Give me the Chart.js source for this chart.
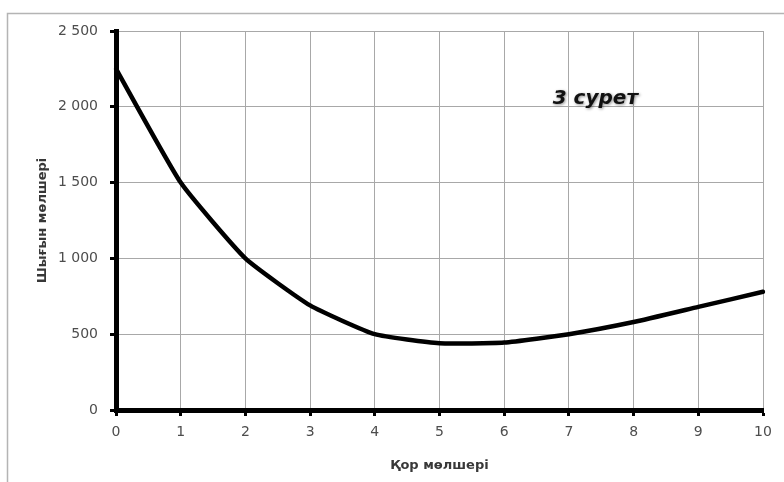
<!DOCTYPE html>
<html>
<head>
<meta charset="utf-8">
<script src="https://cdn.jsdelivr.net/npm/chart.js@4/dist/chart.umd.min.js"></script>
<style>
  html, body { margin: 0; padding: 0; background: #ffffff; }
  #wrap { width: 784px; height: 482px; position: relative; }
</style>
</head>
<body>
<div id="wrap"><canvas id="c"></canvas></div>
<script>
// ---- data ----
const categories = ['0', '1', '2', '3', '4', '5', '6', '7', '8', '9', '10'];
const costValues = [2250, 1500, 1000, 690, 500, 440, 445, 500, 580, 680, 780];
const yTickValues = [0, 500, 1000, 1500, 2000, 2500];
const yTickLabels = ['0', '500', '1 000', '1 500', '2 000', '2 500'];
const xTitle = 'Қор мөлшері';
const yTitle = 'Шығын мөлшері';
const noteText = '3 сурет';
const notePos = { x: 6.75, y: 2055 };

const frame = {
  id: 'frame',
  beforeDraw(chart) {
    const ctx = chart.ctx;
    ctx.save();
    ctx.fillStyle = '#ffffff';
    ctx.fillRect(0, 0, chart.width, chart.height);
    ctx.strokeStyle = '#b4b4b4';
    ctx.lineWidth = 1.5;
    ctx.beginPath();
    ctx.moveTo(7.5, chart.height);
    ctx.lineTo(7.5, 13.5);
    ctx.lineTo(chart.width, 13.5);
    ctx.stroke();
    ctx.restore();
  }
};

const note = {
  id: 'note',
  afterDatasetsDraw(chart) {
    const ctx = chart.ctx;
    const xs = chart.scales.x, ys = chart.scales.y;
    const px = xs.getPixelForValue(notePos.x);
    const py = ys.getPixelForValue(notePos.y);
    ctx.save();
    ctx.font = 'italic bold 20px "DejaVu Sans"';
    ctx.textAlign = 'left';
    ctx.textBaseline = 'middle';
    ctx.shadowColor = 'rgba(0,0,0,0.45)';
    ctx.shadowBlur = 3;
    ctx.shadowOffsetX = 1;
    ctx.shadowOffsetY = 1;
    ctx.fillStyle = '#111111';
    ctx.fillText(noteText, px, py);
    ctx.restore();
  }
};

new Chart(document.getElementById('c'), {
  type: 'line',
  data: {
    labels: categories,
    datasets: [{
      data: costValues,
      borderColor: '#000000',
      borderWidth: 4.5,
      pointRadius: 0,
      tension: 0.15,
      borderJoinStyle: 'round',
      borderCapStyle: 'round',
      fill: false
    }]
  },
  options: {
    responsive: true,
    maintainAspectRatio: false,
    animation: false,
    devicePixelRatio: 1,
    layout: { padding: { top: 31, right: 21, left: 0, bottom: 0 } },
    plugins: {
      legend: { display: false },
      tooltip: { enabled: false }
    },
    scales: {
      x: {
        type: 'category',
        offset: false,
        afterFit(s) { s.height = 72; },
        grid: {
          color: '#a8a8a8',
          lineWidth: 1,
          tickColor: '#000000',
          tickWidth: 3,
          tickLength: 6,
          drawTicks: true
        },
        border: { color: '#000000', width: 5 },
        ticks: {
          color: '#4d4d4d',
          font: { family: '"DejaVu Sans"', size: 14 },
          padding: 8,
          maxRotation: 0,
          autoSkip: false
        },
        title: {
          display: true,
          text: xTitle,
          color: '#383838',
          font: { family: '"DejaVu Sans"', size: 13, weight: 'bold' },
          padding: { top: 0, bottom: 9 }
        }
      },
      y: {
        min: 0,
        max: 2500,
        afterFit(s) { s.width = 116; },
        afterBuildTicks(s) { s.ticks = yTickValues.map(v => ({ value: v })); },
        grid: {
          color: '#a8a8a8',
          lineWidth: 1,
          tickColor: '#000000',
          tickWidth: 3,
          tickLength: 6
        },
        border: { color: '#000000', width: 5 },
        ticks: {
          color: '#4d4d4d',
          font: { family: '"DejaVu Sans"', size: 14 },
          padding: 12,
          callback(value, index) { return yTickLabels[index]; }
        },
        title: {
          display: true,
          text: yTitle,
          color: '#383838',
          font: { family: '"DejaVu Sans"', size: 13, weight: 'bold' },
          padding: { top: 35, bottom: 0 }
        }
      }
    }
  },
  plugins: [frame, note]
});
</script>
</body>
</html>
